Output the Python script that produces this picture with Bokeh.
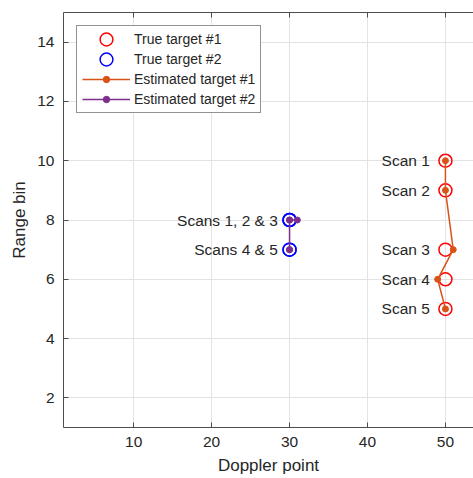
from bokeh.plotting import figure
from bokeh.models import (Range1d, LinearAxis, FixedTicker, Legend, LegendItem,
                          ColumnDataSource)
from bokeh.core.properties import value
from bokeh.embed import file_html
from bokeh.resources import INLINE

# True target positions over five scans
true1_doppler = [50, 50, 50, 50, 50]
true1_range = [10, 9, 7, 6, 5]
true2_doppler = [30, 30, 30, 30, 30]
true2_range = [8, 8, 8, 7, 7]

# Estimated target tracks
est1_doppler = [50, 50, 51, 49, 50]
est1_range = [10, 9, 7, 6, 5]
est2_doppler = [30, 31, 30, 30, 30]
est2_range = [8, 8, 8, 7, 7]

# Annotations
scan_labels_1 = ["Scan 1", "Scan 2", "Scan 3", "Scan 4", "Scan 5"]
scan_labels_2 = ["Scans 1, 2 & 3", "Scans 4 & 5"]
scan_labels_2_range = [8, 7]

x_ticks = [10, 20, 30, 40, 50]
y_ticks = [2, 4, 6, 8, 10, 12, 14]

FONT = "Liberation Sans"
AXIS_COLOR = "#4d4d4d"
TEXT_COLOR = "#262626"
RED = "#ff0000"
BLUE = "#0000ff"
ORANGE = "#d95319"
PURPLE = "#7e2f8e"

p = figure(width=473, height=478, output_backend="svg", toolbar_location=None,
           x_range=Range1d(1, 53.6), y_range=Range1d(1, 15),
           min_border_left=63, min_border_right=0, min_border_top=12,
           min_border_bottom=51, x_axis_label="Doppler point",
           y_axis_label="Range bin")
p.outline_line_color = None
p.background_fill_color = "white"
p.border_fill_color = "white"

for ax, ticks in ((p.xaxis[0], x_ticks), (p.yaxis[0], y_ticks)):
    ax.ticker = FixedTicker(ticks=ticks)
    ax.major_tick_in = 5
    ax.major_tick_out = 0
    ax.minor_tick_line_color = None
    ax.axis_line_color = AXIS_COLOR
    ax.major_tick_line_color = AXIS_COLOR
    ax.major_label_text_font = FONT
    ax.major_label_text_font_size = "15.5px"
    ax.major_label_text_color = TEXT_COLOR
    ax.axis_label_text_font = FONT
    ax.axis_label_text_font_size = "17px"
    ax.axis_label_text_font_style = "normal"
    ax.axis_label_text_color = TEXT_COLOR

p.xaxis[0].major_label_standoff = 9
p.xaxis[0].axis_label_standoff = 6
p.yaxis[0].major_label_standoff = 9
p.yaxis[0].axis_label_standoff = 5

# Top box edge with inward ticks and no labels
top = LinearAxis(ticker=FixedTicker(ticks=x_ticks), major_tick_in=5,
                 major_tick_out=0, minor_tick_line_color=None,
                 axis_line_color=AXIS_COLOR, major_tick_line_color=AXIS_COLOR,
                 major_label_text_color=None, major_label_text_font_size="1px",
                 major_label_standoff=0)
p.add_layout(top, "above")

p.xgrid.ticker = FixedTicker(ticks=x_ticks)
p.ygrid.ticker = FixedTicker(ticks=y_ticks)
p.grid.grid_line_color = "#e3e3e3"
p.grid.grid_line_width = 1

# True targets: open rings of fixed screen size
r_t1 = p.ellipse(true1_doppler, true1_range, width=13, height=13,
                 width_units="screen", height_units="screen",
                 fill_color=None, line_color=RED, line_width=1.5)
r_t2 = p.ellipse(true2_doppler, true2_range, width=13, height=13,
                 width_units="screen", height_units="screen",
                 fill_color=None, line_color=BLUE, line_width=1.5)

# Estimated tracks
l_e1 = p.line(est1_doppler, est1_range, line_color=ORANGE, line_width=1.5)
d_e1 = p.scatter(est1_doppler, est1_range, marker="circle", size=6,
                 fill_color=ORANGE, line_color=ORANGE)
l_e2 = p.line(est2_doppler, est2_range, line_color=PURPLE, line_width=1.5)
d_e2 = p.scatter(est2_doppler, est2_range, marker="circle", size=6,
                 fill_color=PURPLE, line_color=PURPLE)

# Scan annotations, placed just left of each true target
lab1 = ColumnDataSource(dict(x=[d - 2 for d in true1_doppler], y=true1_range,
                             t=scan_labels_1))
p.text(x="x", y="y", text="t", source=lab1, text_align="right",
       text_baseline="middle", text_font=value(FONT),
       text_font_size="15.5px", text_color=TEXT_COLOR)
lab2 = ColumnDataSource(dict(x=[true2_doppler[0] - 1.5] * 2,
                             y=scan_labels_2_range, t=scan_labels_2))
p.text(x="x", y="y", text="t", source=lab2, text_align="right",
       text_baseline="middle", text_font=value(FONT),
       text_font_size="15.5px", text_color=TEXT_COLOR)

legend = Legend(items=[
    LegendItem(label="True target #1", renderers=[r_t1]),
    LegendItem(label="True target #2", renderers=[r_t2]),
    LegendItem(label="Estimated target #1", renderers=[l_e1, d_e1]),
    LegendItem(label="Estimated target #2", renderers=[l_e2, d_e2]),
], location="top_left")
legend.margin = 13
legend.padding = 5
legend.spacing = 4
legend.glyph_width = 48
legend.glyph_height = 16
legend.label_height = 16
legend.label_standoff = 4
legend.label_text_font = FONT
legend.label_text_font_size = "14px"
legend.label_text_color = TEXT_COLOR
legend.border_line_color = "#262626"
legend.border_line_width = 1
legend.background_fill_color = "white"
legend.background_fill_alpha = 1
p.add_layout(legend)

open("out.html", "w").write(file_html(p, INLINE))
